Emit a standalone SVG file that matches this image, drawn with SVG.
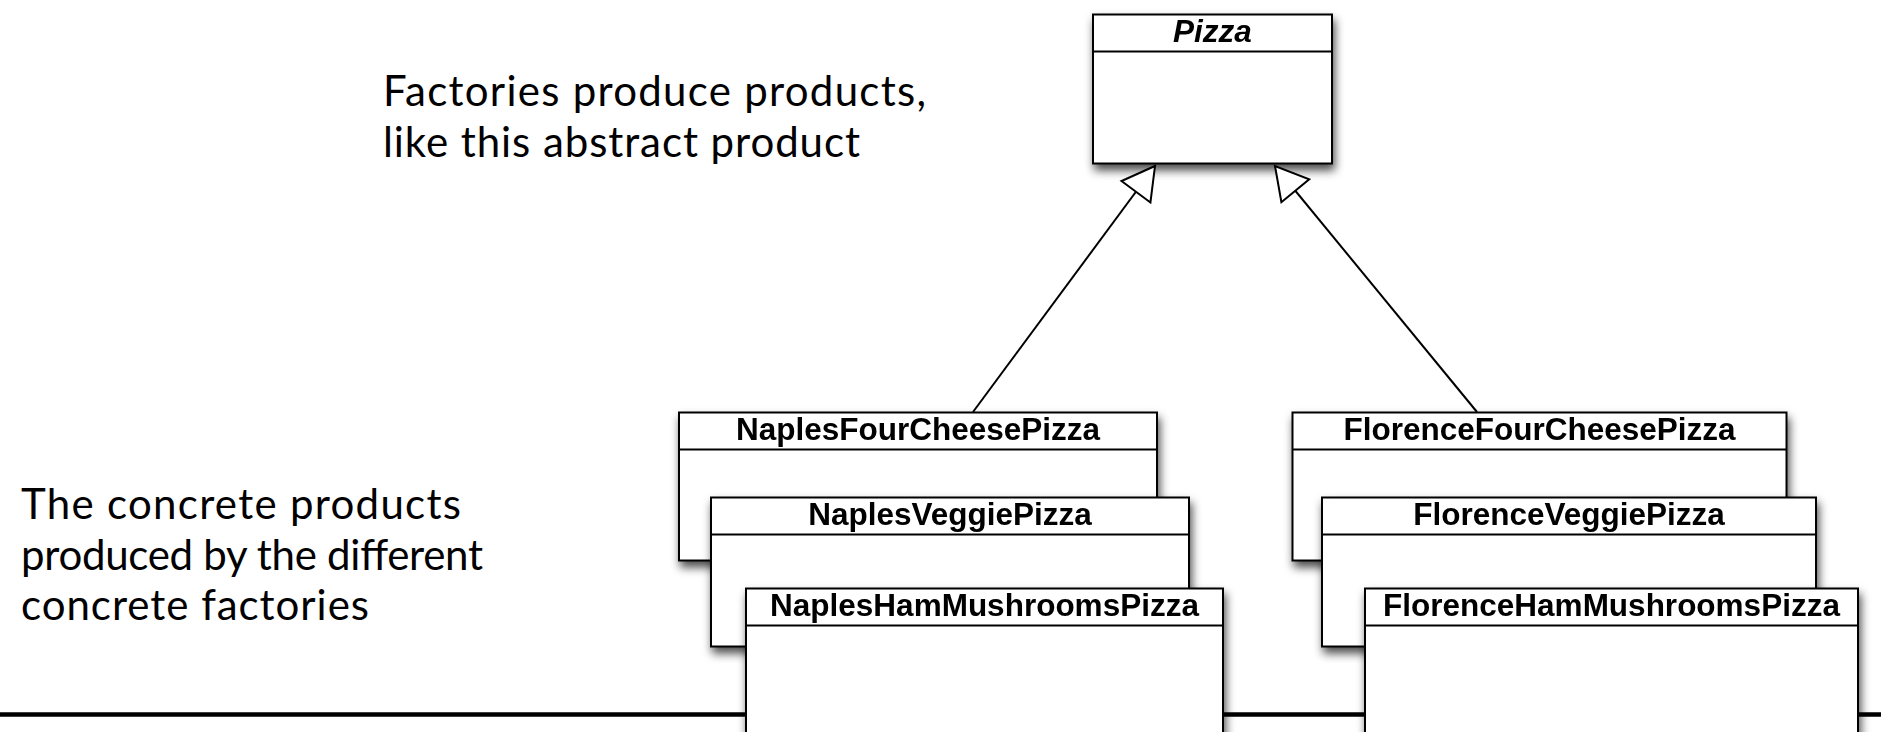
<svg xmlns="http://www.w3.org/2000/svg" width="1881" height="732" viewBox="0 0 1881 732">
  <style>
    .box rect { fill: #ffffff; stroke: #000000; stroke-width: 2; }
    .box line { stroke: #000000; stroke-width: 2; }
    .box { filter: url(#shadow); }
    .cls { font-family: "Liberation Sans", Arial, Helvetica, sans-serif; font-weight: bold; font-size: 31.5px; text-anchor: middle; fill: #000000; }
    .abstract { font-style: italic; }
    .note { font-family: Lato, "Open Sans", "Liberation Sans", sans-serif; font-size: 42px; fill: #000000; }
    .edge { stroke: #000000; stroke-width: 2; fill: none; marker-end: url(#gen); }
    .rule { stroke: #000000; stroke-width: 4.5; }
  </style>
  <defs>
    <filter id="shadow" x="-20%" y="-20%" width="150%" height="160%">
      <feDropShadow dx="2" dy="6" stdDeviation="5" flood-color="#000000" flood-opacity="0.7"/>
    </filter>
    <marker id="gen" markerUnits="userSpaceOnUse" markerWidth="44" markerHeight="44" viewBox="-38 -22 44 44" refX="0" refY="0" orient="auto" overflow="visible">
      <path d="M0,0 L-32,-18 L-32,18 Z" fill="#ffffff" stroke="#000000" stroke-width="2" stroke-linejoin="miter"/>
    </marker>
  </defs>

  <rect x="0" y="0" width="1881" height="732" fill="#ffffff"/>

  <line class="rule" x1="0" y1="714.5" x2="1881" y2="714.5"/>

  <g id="note-top">
    <text class="note" x="383" y="106" textLength="543" lengthAdjust="spacing">Factories produce products,</text>
    <text class="note" x="383" y="157" textLength="477" lengthAdjust="spacing">like this abstract product</text>
  </g>
  <g id="note-bottom">
    <text class="note" x="21" y="519" textLength="440" lengthAdjust="spacing">The concrete products</text>
    <text class="note" x="21" y="569.5" textLength="462" lengthAdjust="spacing">produced by the different</text>
    <text class="note" x="21" y="620" textLength="348" lengthAdjust="spacing">concrete factories</text>
  </g>

  <g id="Pizza" class="box">
    <rect x="1093" y="14.5" width="239" height="149"/>
    <line x1="1093" y1="51.5" x2="1332" y2="51.5"/>
    <text class="cls abstract" x="1212.5" y="41.5">Pizza</text>
  </g>

  <g id="connectors">
    <line class="edge" x1="973" y1="412" x2="1155" y2="166"/>
    <line class="edge" x1="1477" y1="412" x2="1275" y2="166"/>
  </g>

  <g id="NaplesFourCheesePizza" class="box">
    <rect x="679" y="412.5" width="478" height="148"/>
    <line x1="679" y1="449.5" x2="1157" y2="449.5"/>
    <text class="cls" x="918" y="439.5">NaplesFourCheesePizza</text>
  </g>
  <g id="NaplesVeggiePizza" class="box">
    <rect x="711" y="497.5" width="478" height="149"/>
    <line x1="711" y1="534.5" x2="1189" y2="534.5"/>
    <text class="cls" x="950" y="524.5">NaplesVeggiePizza</text>
  </g>
  <g id="NaplesHamMushroomsPizza" class="box">
    <rect x="746" y="588.5" width="477" height="160"/>
    <line x1="746" y1="625.5" x2="1223" y2="625.5"/>
    <text class="cls" x="984.5" y="615.5">NaplesHamMushroomsPizza</text>
  </g>

  <g id="FlorenceFourCheesePizza" class="box">
    <rect x="1292.5" y="412.5" width="494" height="148"/>
    <line x1="1292.5" y1="449.5" x2="1786.5" y2="449.5"/>
    <text class="cls" x="1539.5" y="439.5">FlorenceFourCheesePizza</text>
  </g>
  <g id="FlorenceVeggiePizza" class="box">
    <rect x="1322" y="497.5" width="494" height="149"/>
    <line x1="1322" y1="534.5" x2="1816" y2="534.5"/>
    <text class="cls" x="1569" y="524.5">FlorenceVeggiePizza</text>
  </g>
  <g id="FlorenceHamMushroomsPizza" class="box">
    <rect x="1365" y="588.5" width="493" height="160"/>
    <line x1="1365" y1="625.5" x2="1858" y2="625.5"/>
    <text class="cls" x="1611.5" y="615.5">FlorenceHamMushroomsPizza</text>
  </g>
</svg>
